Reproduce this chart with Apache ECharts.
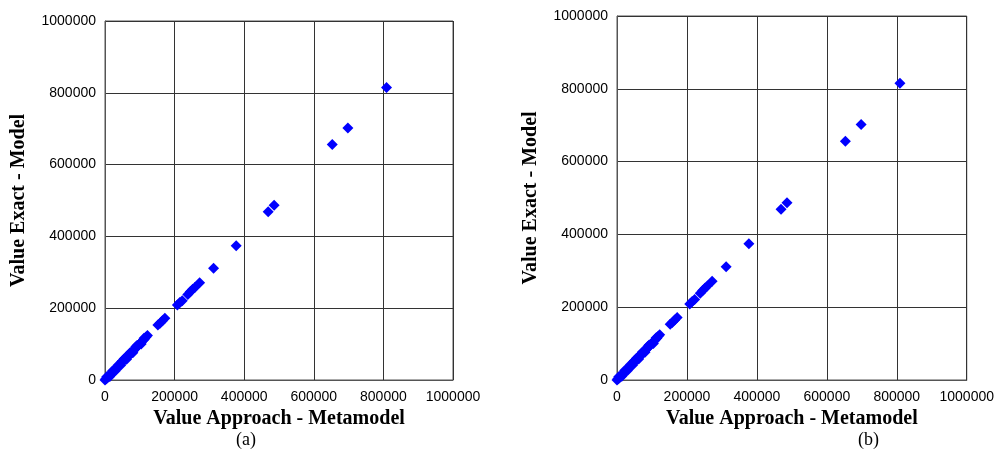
<!DOCTYPE html>
<html>
<head>
<meta charset="utf-8">
<script src="https://cdn.jsdelivr.net/npm/echarts@6/dist/echarts.min.js"></script>
<style>
html,body{margin:0;padding:0;background:#fff;}
#chart{width:997px;height:452px;}
</style>
</head>
<body>
<div id="chart"></div>
<script>
// Value Approach - Metamodel (x) and Value Exact - Model (y)
var approachA = [0,2000,4000,6000,8000,10000,12000,15000,18000,20000,23000,26000,28000,31000,34000,37000,40000,43000,46000,48000,50000,53000,56000,58000,60000,63000,65000,68000,70000,73000,76000,79000,82000,85000,88000,90000,93000,96000,99000,102000,106000,110000,114000,118000,122000,
  5000,14000,22000,30000,38000,45000,55000,62000,72000,80000,92000,104000,112000,
  152000,158000,165000,172000,208000,215000,222000,238000,245000,252000,258000,272000,312000,377000,469000,486000,653000,698000,809000];
var exactA = [0,2500,3500,6500,7500,10500,12000,14500,18500,20000,22500,26500,28000,30500,34500,37000,40000,43500,46000,50000,53000,54000,56500,60000,61000,66000,64000,68500,72000,73500,76000,80000,82500,86000,92000,90000,95000,97000,100000,103000,107000,111000,115000,120000,124000,
  9000,10000,26000,26000,42000,41000,59000,58000,76000,76000,96000,100000,116000,
  153000,158000,165000,172000,209000,216000,221000,238000,246000,253000,258000,271000,311000,374000,469000,487000,656000,702000,815000];
var approachB = approachA.slice();
var exactB = exactA.slice();
var tickValues = [0,200000,400000,600000,800000,1000000];
var xTitle = 'Value Approach - Metamodel';
var yTitle = 'Value Exact - Model';
var panelLabels = ['(a)','(b)'];

function pairs(xs, ys){ return xs.map(function(x,i){ return [x, ys[i]]; }); }

var tickFont = {fontFamily:'"Liberation Sans", Arial, sans-serif', fontSize:14, color:'#000'};
var titleFont = {fontFamily:'"Liberation Serif", "Times New Roman", serif', fontSize:20, fontWeight:'bold', color:'#000'};
function fmt(v){ return String(v); }

function xAxis(gi){
  return {type:'value', gridIndex:gi, min:tickValues[0], max:tickValues[tickValues.length-1], interval:200000,
    name:xTitle, nameLocation:'middle', nameGap:26, nameTextStyle:titleFont,
    axisLine:{show:true, lineStyle:{color:'#555', width:1}}, axisTick:{show:false},
    axisLabel:Object.assign({margin:10, formatter:fmt, showMaxLabel:true, showMinLabel:true}, tickFont),
    splitLine:{show:true, lineStyle:{color:'#333', width:1}}};
}
function yAxis(gi){
  return {type:'value', gridIndex:gi, min:tickValues[0], max:tickValues[tickValues.length-1], interval:200000,
    name:yTitle, nameLocation:'middle', nameGap:76, nameTextStyle:titleFont,
    axisLine:{show:true, lineStyle:{color:'#555', width:1}}, axisTick:{show:false},
    axisLabel:Object.assign({margin:9, formatter:fmt}, tickFont),
    splitLine:{show:true, lineStyle:{color:'#333', width:1}}};
}

var chart = echarts.init(document.getElementById('chart'), null, {renderer:'canvas'});
chart.setOption({
  animation:false,
  backgroundColor:'#fff',
  grid:[
    {left:105, top:21, width:348, height:359, show:true, borderColor:'#555', borderWidth:1},
    {left:617, top:16, width:352, height:364, show:true, borderColor:'#555', borderWidth:1}
  ],
  xAxis:[xAxis(0), xAxis(1)],
  yAxis:[yAxis(0), yAxis(1)],
  series:[
    {type:'scatter', xAxisIndex:0, yAxisIndex:0, data:pairs(approachA, exactA), symbol:'diamond', symbolSize:11, itemStyle:{color:'#0000FF', opacity:1}},
    {type:'scatter', xAxisIndex:1, yAxisIndex:1, data:pairs(approachB, exactB), symbol:'diamond', symbolSize:11, itemStyle:{color:'#0000FF', opacity:1}}
  ],
  graphic:[
    {type:'text', left:250-14, top:431, style:{text:panelLabels[0], font:'18px "Liberation Serif", "Times New Roman", serif', fill:'#000'}},
    {type:'text', left:872-14, top:431, style:{text:panelLabels[1], font:'18px "Liberation Serif", "Times New Roman", serif', fill:'#000'}}
  ]
});
</script>
</body>
</html>
